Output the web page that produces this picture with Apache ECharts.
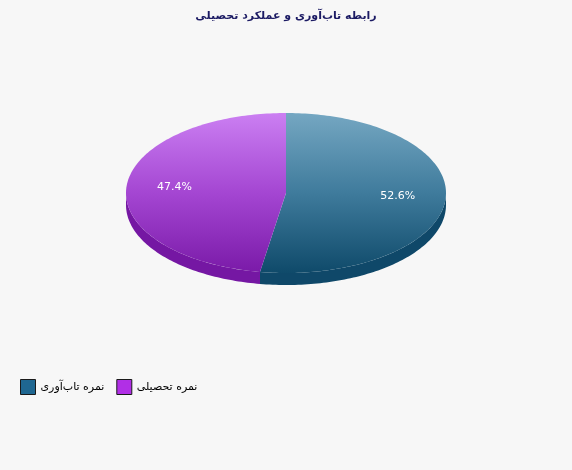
<!DOCTYPE html>
<html style="height: 100%">
    <head>
        <meta charset="utf-8">
    </head>
    <body style="height: 100%; margin: 0; background: #f7f7f7">
        <div id="container" style="width: 572px; height: 470px"></div>
        <script type="text/javascript" src="https://cdn.jsdelivr.net/npm/echarts@6/dist/echarts.min.js"></script>
        <script type="text/javascript">
    var chartTitle = 'رابطه تاب‌آوری و عملکرد تحصیلی';
    var sliceNames = ['نمره تاب‌آوری', 'نمره تحصیلی'];
    var sliceValues = [52.6, 47.4];
    var legendColors = ['#1f6791', '#b12fe6'];
    var topColors = [['#75a7c2', '#3f7b9c', '#0f4a6a'], ['#cb7ff2', '#a446d2', '#7a1aa8']];
    var sideColors = ['#0f4869', '#7517a3'];

    var dom = document.getElementById("container");
    var myChart = echarts.init(dom);
    var option;

    // flattened pie layout
    var cx = 286, cy = 193, rx = 160, ry = 80, depth = 12;
    var total = 0;
    for (var i = 0; i < sliceValues.length; i++) total += sliceValues[i];

    function pt(a, dy) {
        return [cx + rx * Math.sin(a), cy - ry * Math.cos(a) + (dy || 0)];
    }

    function arc(a0, a1, dy) {
        var pts = [];
        var n = Math.max(2, Math.ceil(Math.abs(a1 - a0) / 0.02));
        for (var k = 0; k <= n; k++) {
            pts.push(pt(a0 + (a1 - a0) * k / n, dy));
        }
        return pts;
    }

    function makeRender(idx) {
        return function (params, api) {
            var start = 0;
            for (var j = 0; j < idx; j++) start += sliceValues[j];
            var v = api.value(0);
            var a0 = start / total * Math.PI * 2;
            var a1 = (start + v) / total * Math.PI * 2;
            var children = [];

            // side wall, only the front half is visible
            var s0 = Math.max(a0, Math.PI / 2), s1 = Math.min(a1, Math.PI * 1.5);
            if (s1 > s0) {
                var upper = arc(s0, s1, 0);
                var lower = arc(s1, s0, depth);
                children.push({
                    type: 'polygon',
                    shape: { points: upper.concat(lower) },
                    style: { fill: sideColors[idx] }
                });
            }

            var c = topColors[idx];
            children.push({
                type: 'polygon',
                shape: { points: [[cx, cy]].concat(arc(a0, a1, 0)) },
                style: {
                    fill: {
                        type: 'linear', x: 0, y: cy - ry, x2: 0, y2: cy + ry, global: true,
                        colorStops: [
                            { offset: 0, color: c[0] },
                            { offset: 0.5, color: c[1] },
                            { offset: 1, color: c[2] }
                        ]
                    }
                }
            });

            var mid = (a0 + a1) / 2;
            children.push({
                type: 'text',
                x: cx + rx * 0.7 * Math.sin(mid),
                y: cy - 1 - ry * 0.7 * Math.cos(mid),
                style: {
                    text: (v / total * 100).toFixed(1) + '%',
                    fill: '#ffffff',
                    font: '11px "DejaVu Sans"',
                    align: 'center',
                    verticalAlign: 'middle'
                }
            });
            return { type: 'group', children: children };
        };
    }

    var series = [];
    for (var i = 0; i < sliceNames.length; i++) {
        series.push({
            name: sliceNames[i],
            type: 'custom',
            coordinateSystem: 'none',
            renderItem: makeRender(i),
            itemStyle: { color: legendColors[i] },
            data: [[sliceValues[i]]],
            animation: false
        });
    }

    option = {
        backgroundColor: '#f7f7f7',
        title: {
            text: chartTitle,
            left: 'center',
            top: 6,
            textStyle: {
                color: '#1b1a63',
                fontSize: 11,
                fontWeight: 'bold',
                fontFamily: 'DejaVu Sans'
            }
        },
        legend: {
            data: sliceNames,
            left: 20,
            top: 379,
            padding: 0,
            icon: 'rect',
            itemWidth: 15,
            itemHeight: 15,
            itemGap: 12,
            selectedMode: false,
            itemStyle: { borderColor: '#1a1a1a', borderWidth: 1 },
            textStyle: { color: '#000000', fontSize: 11, fontFamily: 'DejaVu Sans' }
        },
        series: series
    };

    if (option && typeof option === 'object') {
        myChart.setOption(option);
    }
        </script>
    </body>
</html>
